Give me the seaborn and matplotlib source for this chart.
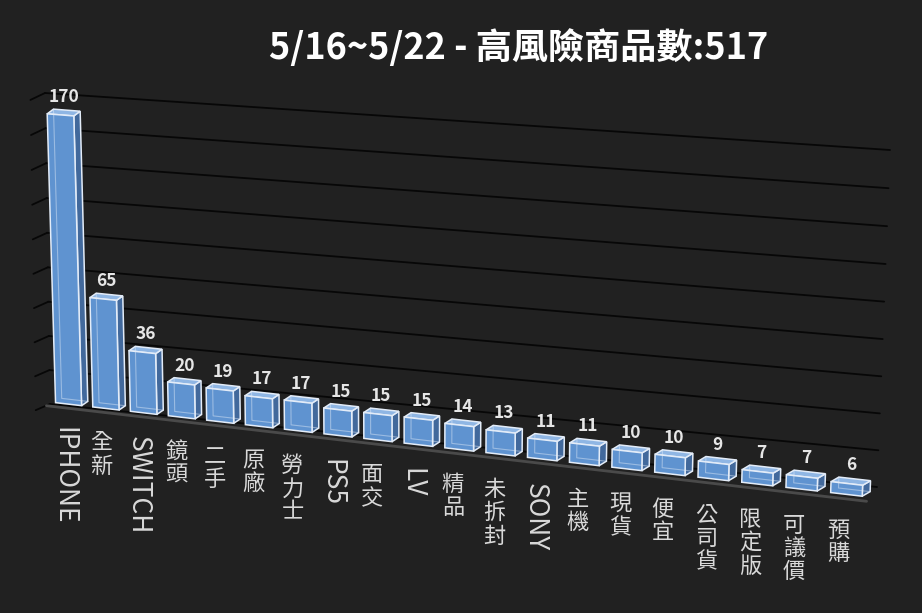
import numpy as np
import pandas as pd
import matplotlib
matplotlib.use("Agg")
import matplotlib.pyplot as plt
from matplotlib.patches import Polygon
from matplotlib.transforms import Transform
import seaborn as sns

# weekly high-risk keyword counts
categories = ["IPHONE", "全新", "SWITCH", "鏡頭", "二手", "原廠", "勞力士", "PS5", "面交", "LV",
              "精品", "未拆封", "SONY", "主機", "現貨", "便宜", "公司貨", "限定版", "可議價", "預購"]
counts = [170, 65, 36, 20, 19, 17, 17, 15, 15, 15, 14, 13, 11, 11, 10, 10, 9, 7, 7, 6]
grid_values = list(range(0, 181, 20))
title = "5/16~5/22 - 高風險商品數:517"

W, H = 922, 613
BG = "#212121"
FRONT = "#5f93d0"
SIDE = "#42699c"
TOP = "#8fb6e4"
EDGE = "#e3ecf8"

# where the flat plot rectangle lands on the image (pixels): BL, BR, TR, TL
BAR_QUAD = [(50, 402), (869, 497), (882, 160), (41, 96)]
WALL_QUAD = [(50, 404), (877, 487), (890, 150), (45, 93)]
DX, DY = 0.17, 3.0  # bar depth, in data units


def homography(dst):
    src = [(0, 0), (1, 0), (1, 1), (0, 1)]
    A, b = [], []
    for (x, y), (u, v) in zip(src, dst):
        A.append([x, y, 1, 0, 0, 0, -u * x, -u * y])
        b.append(u)
        A.append([0, 0, 0, x, y, 1, -v * x, -v * y])
        b.append(v)
    h = np.linalg.solve(np.array(A, float), np.array(b, float))
    return np.append(h, 1).reshape(3, 3)


class Perspective(Transform):
    input_dims = output_dims = 2
    is_separable = False
    has_inverse = False

    def __init__(self, quad):
        super().__init__()
        self.m = homography([(x / W, 1 - y / H) for x, y in quad])

    def transform_non_affine(self, values):
        values = np.asarray(values, float)
        if values.ndim == 1:
            return self.transform_non_affine(values[None])[0]
        p = np.column_stack([values, np.ones(len(values))]) @ self.m.T
        return p[:, :2] / p[:, 2:]


sns.set_theme(style="dark", rc={"figure.facecolor": BG, "axes.facecolor": BG})
plt.rcParams["font.family"] = ["Noto Sans CJK TC", "DejaVu Sans"]

fig = plt.figure(figsize=(W / 100, H / 100), dpi=100)
ax = fig.add_axes([0, 0, 1, 1])

df = pd.DataFrame({"item": categories, "count": counts})
sns.barplot(data=df, x="item", y="count", order=categories, color=FRONT, saturation=1,
            width=0.7, edgecolor=EDGE, linewidth=1.1, ax=ax)
ax.set_xlim(-0.5, len(categories) - 0.5)
ax.set_ylim(0, 180)
ax.axis("off")

to_frac = ax.transScale + ax.transLimits
bar_t = to_frac + Perspective(BAR_QUAD) + fig.transFigure
wall_t = to_frac + Perspective(WALL_QUAD) + fig.transFigure

# back wall gridlines + short side-wall ticks
for v in grid_values:
    ax.plot([-0.5, len(categories) - 0.5], [v, v], transform=wall_t, color="#070707",
            lw=1.3, zorder=1, clip_on=False)
    ax.plot([-0.88, -0.5], [v - 4.5, v], transform=wall_t, color="#070707",
            lw=1.3, zorder=1, clip_on=False)

# floor front edge
ax.plot([-0.6, len(categories) - 0.55], [-2.5, -2.5], transform=bar_t, color="#4a4a4a",
        lw=2, zorder=1.5, clip_on=False)

bars = list(ax.patches)
for bar, val in zip(bars, counts):
    x0 = bar.get_x()
    x1 = x0 + bar.get_width()
    h = bar.get_height()
    bar.set_transform(bar_t)
    bar.set_clip_on(False)
    bar.set_zorder(4)

    side = Polygon([(x1, 0), (x1 + DX, DY), (x1 + DX, h + DY), (x1, h)], closed=True,
                   transform=bar_t, facecolor=SIDE, edgecolor=EDGE, lw=1.1,
                   zorder=3, clip_on=False)
    top = Polygon([(x0, h), (x1, h), (x1 + DX, h + DY), (x0 + DX, h + DY)], closed=True,
                  transform=bar_t, facecolor=TOP, edgecolor=EDGE, lw=1.1,
                  zorder=3, clip_on=False)
    ax.add_patch(side)
    ax.add_patch(top)
    # hidden back edges showing through the glass
    ax.plot([x0 + DX, x0 + DX, x1 + DX], [h + DY, DY, DY], transform=bar_t, color=EDGE,
            alpha=0.45, lw=0.8, zorder=5, clip_on=False)

    cx = (x0 + x1) / 2
    ax.annotate(str(val), xy=(cx + DX / 2, h + DY), xycoords=bar_t, xytext=(0, 3),
                textcoords="offset points", ha="center", va="bottom", fontsize=12.5,
                fontweight="bold", color="#e6e6e6")

# vertical category labels
for i, cat in enumerate(categories):
    if cat.isascii():
        ax.annotate(cat, xy=(i - 0.15, -14), xycoords=bar_t, ha="center", va="top",
                    rotation=270, fontsize=19, fontweight="medium", color="#d9d9d9")
    else:
        ax.annotate("\n".join(cat), xy=(i - 0.15, -14), xycoords=bar_t, ha="center",
                    va="top", fontsize=16, fontweight="medium", linespacing=1.02,
                    color="#d9d9d9")

fig.text(0.562, 0.922, title, ha="center", va="center", fontsize=26,
         fontweight="bold", color="white")

fig.savefig("out.png", dpi=100, facecolor=BG)
